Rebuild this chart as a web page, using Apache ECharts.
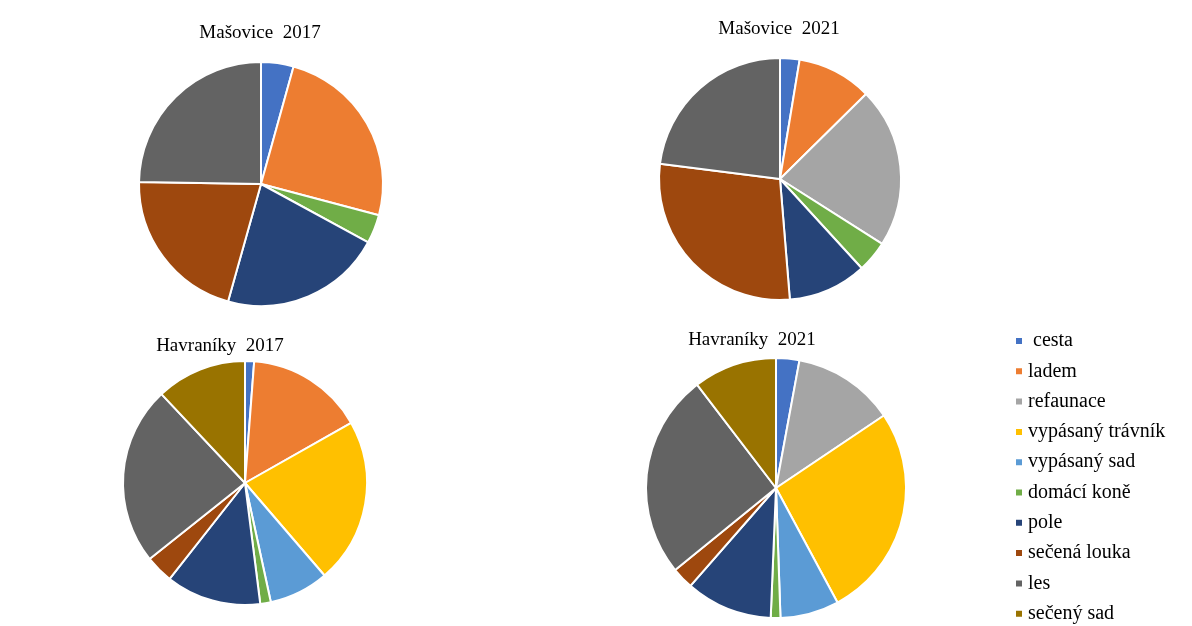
<!DOCTYPE html>
<html>
<head>
<meta charset="utf-8">
<script src="https://cdn.jsdelivr.net/npm/echarts@6/dist/echarts.min.js"></script>
<style>
  html, body { margin: 0; padding: 0; background: #fff; }
  #chart { width: 1192px; height: 626px; }
</style>
</head>
<body>
<div id="chart"></div>
<script>
// kategorie (poradi jako v legende)
const categories = ['cesta', 'ladem', 'refaunace', 'vypásaný trávník', 'vypásaný sad',
  'domácí koně', 'pole', 'sečená louka', 'les', 'sečený sad']
const colors = ['#4472C4', '#ED7D31', '#A5A5A5', '#FFC000', '#5B9BD5',
  '#70AD47', '#264478', '#9E480E', '#636363', '#997300']

// podily v %
const masovice2017 = [4.3, 24.8, 0, 0, 0, 3.8, 21.4, 20.9, 24.7, 0]
const masovice2021 = [2.6, 10.0, 21.4, 0, 0, 4.2, 10.5, 28.3, 23.0, 0]
const havraniky2017 = [1.2, 15.6, 0, 21.9, 7.9, 1.4, 12.6, 3.7, 23.7, 12.0]
const havraniky2021 = [2.9, 0, 12.7, 26.6, 7.3, 1.2, 10.8, 2.7, 25.5, 10.4]

const titles = ['Mašovice  2017', 'Mašovice  2021', 'Havraníky  2017', 'Havraníky  2021']

const font = '"Liberation Serif", "Times New Roman", serif'

function toData(values) {
  const out = []
  for (let i = 0; i < values.length; i++) {
    if (values[i] > 0) {
      out.push({ name: categories[i], value: values[i], itemStyle: { color: colors[i] } })
    }
  }
  return out
}

function pie(name, values, center, radius) {
  return {
    name: name,
    type: 'pie',
    center: center,
    radius: radius,
    startAngle: 90,
    clockwise: true,
    label: { show: false },
    labelLine: { show: false },
    emphasis: { disabled: true },
    itemStyle: { borderColor: '#fff', borderWidth: 2 },
    data: toData(values)
  }
}

const chart = echarts.init(document.getElementById('chart'))
const option = {
  backgroundColor: '#fff',
  animation: false,
  color: colors,
  graphic: [
    { type: 'text', x: 260, y: 33, style: { text: titles[0], font: '19px ' + font, fill: '#000', textAlign: 'center', textVerticalAlign: 'middle' } },
    { type: 'text', x: 779, y: 29, style: { text: titles[1], font: '19px ' + font, fill: '#000', textAlign: 'center', textVerticalAlign: 'middle' } },
    { type: 'text', x: 220, y: 346, style: { text: titles[2], font: '19px ' + font, fill: '#000', textAlign: 'center', textVerticalAlign: 'middle' } },
    { type: 'text', x: 752, y: 340, style: { text: titles[3], font: '19px ' + font, fill: '#000', textAlign: 'center', textVerticalAlign: 'middle' } }
  ],
  legend: {
    orient: 'vertical',
    left: 1014,
    top: 330,
    height: 296,
    padding: 0,
    data: categories,
    icon: 'rect',
    itemWidth: 8,
    itemHeight: 8,
    itemGap: 8.3,
    selectedMode: false,
    formatter: function(name) {
      return name === 'cesta' ? ' cesta' : name
    },
    textStyle: { fontFamily: font, fontSize: 20, color: '#000', lineHeight: 22 }
  },
  series: [
    pie(titles[0], masovice2017, [261, 184], 122),
    pie(titles[1], masovice2021, [780, 179], 121),
    pie(titles[2], havraniky2017, [245, 483], 122),
    pie(titles[3], havraniky2021, [776, 488], 130)
  ]
}
chart.setOption(option)
</script>
</body>
</html>
